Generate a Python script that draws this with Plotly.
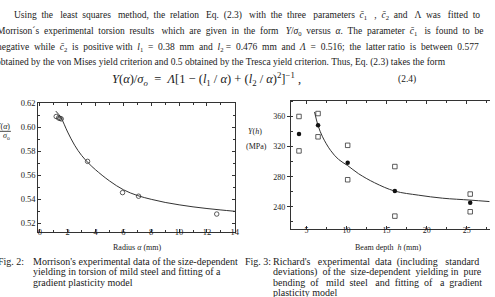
import plotly.graph_objects as go

W, H = 495, 297
FONT = "Liberation Serif"
INK = "#1a1a1a"

# ---- Fig. 2 data (Morrison, torsion) ----
radius_pts = [1.18, 1.35, 1.54, 1.45, 3.43, 5.94, 7.09, 12.7]
ratio_pts = [0.6090, 0.6078, 0.6070, 0.6074, 0.5715, 0.5454, 0.5424, 0.5275]
radius_fit = [1.15, 1.5, 2.0, 2.5, 3.0, 3.5, 4.0, 5.0, 6.0, 7.0, 8.0, 9.0, 10.0, 11.0, 12.0, 13.0, 14.0]
ratio_fit = [0.6135, 0.6085, 0.5960, 0.5850, 0.5765, 0.5700, 0.5645, 0.5552, 0.5478, 0.5430, 0.5398, 0.5372, 0.5352, 0.5335, 0.5321, 0.5309, 0.5298]

# ---- Fig. 3 data (Richards, bending) ----
depth = [4.06, 6.44, 10.14, 16.03, 25.44]
yield_mean = [336.9, 348.3, 298.7, 260.9, 245.6]
yield_hi = [360.0, 363.9, 321.7, 293.5, 257.0]
yield_lo = [314.3, 333.0, 276.0, 227.7, 233.5]
depth_fit = [6.0, 6.44, 7.0, 8.0, 9.0, 10.14, 11.5, 13.5, 16.0, 19.0, 22.0, 25.4, 27.9]
yield_fit = [366.0, 348.0, 333.0, 315.0, 303.0, 294.8, 284.0, 272.0, 261.0, 255.5, 251.5, 249.0, 247.0]

fig = go.Figure()
fig.add_trace(go.Scatter(x=radius_fit, y=ratio_fit, mode="lines", line=dict(color="#333", width=1, shape="spline"),
                         xaxis="x", yaxis="y", showlegend=False, hoverinfo="skip"))
fig.add_trace(go.Scatter(x=radius_pts, y=ratio_pts, mode="markers",
                         marker=dict(symbol="circle-open", size=4.5, color="#333", line=dict(width=0.8)),
                         xaxis="x", yaxis="y", showlegend=False))
fig.add_trace(go.Scatter(x=depth_fit, y=yield_fit, mode="lines", line=dict(color="#333", width=1, shape="spline"),
                         xaxis="x2", yaxis="y2", showlegend=False, hoverinfo="skip"))
fig.add_trace(go.Scatter(x=depth + depth, y=yield_hi + yield_lo, mode="markers",
                         marker=dict(symbol="square-open", size=4.5, color="#333", line=dict(width=0.8)),
                         xaxis="x2", yaxis="y2", showlegend=False))
fig.add_trace(go.Scatter(x=depth, y=yield_mean, mode="markers",
                         marker=dict(symbol="circle", size=4.5, color="#111"),
                         xaxis="x2", yaxis="y2", showlegend=False))

def px(x): return x / W
def py(y): return 1 - y / H

tickfont = dict(family=FONT, size=8.5, color=INK)
axcommon = dict(showline=True, linecolor="#333", linewidth=1, mirror="ticks", showgrid=False,
                zeroline=False, tickcolor="#333", tickfont=tickfont, ticks="inside", ticklen=3)

fig.update_layout(
    width=W, height=H, margin=dict(l=0, r=0, t=0, b=0),
    paper_bgcolor="white", plot_bgcolor="white",
    xaxis=dict(domain=[px(37.7), px(237)], range=[-0.11, 14.02], dtick=2, tick0=0, ticklabelstandoff=-8,
               minor=dict(dtick=1, ticks="inside", ticklen=2, tickcolor="#333"), anchor="y", **axcommon),
    yaxis=dict(domain=[py(231), py(100)], range=[0.5124, 0.62], dtick=0.02, tick0=0, tickformat=".2f",
               minor=dict(dtick=0.01, ticks="inside", ticklen=2, tickcolor="#333"), anchor="x", **axcommon),
    xaxis2=dict(domain=[px(293.3), px(494.5)], range=[3.03, 27.85], dtick=5, tick0=0, ticklabelstandoff=-7,
                minor=dict(dtick=2.5, ticks="inside", ticklen=2, tickcolor="#333"), anchor="y2",
                **{**axcommon, "tickfont": dict(family=FONT, size=8, color=INK)}),
    yaxis2=dict(domain=[py(228.3), py(97.3)], range=[210, 381], dtick=40, tick0=0,
                minor=dict(dtick=20, ticks="inside", ticklen=2, tickcolor="#333"), anchor="x2",
                **{**axcommon, "mirror": False, "ticks": "outside", "tickfont": dict(family=FONT, size=8, color=INK)}),
    yaxis3=dict(overlaying="y2", side="right", anchor="x2", range=[210, 381], dtick=20, tick0=0,
                ticks="inside", ticklen=2, tickcolor="#333", showticklabels=False, showgrid=False,
                zeroline=False, showline=True, linecolor="#333", linewidth=1),
)

NB = "\u00a0"
def justify(tokens, extra):
    gaps = len(tokens) - 1
    out = tokens[0]
    for i in range(1, len(tokens)):
        n = round(extra * i / gaps) - round(extra * (i - 1) / gaps)
        out += " " + NB * n + tokens[i]
    return out

def note(x, y, text, font, xanchor="left"):
    return dict(x=px(x), y=py(y), xref="paper", yref="paper", text=text, showarrow=False,
                xanchor=xanchor, yanchor="middle", font=font)

C1 = "<i>c\u0304</i><sub>1</sub>"
C2 = "<i>c\u0304</i><sub>2</sub>"
body = dict(family=FONT, size=9.5, color=INK)
OFF = 2.5  # annotation inner padding
lines = [
    (14, 11, justify(["Using", "the", "least", "squares", "method,", "the", "relation", "Eq.", "(2.3)", "with", "the",
                      "three", "parameters", C1, ",", C2, "and", "\u039b", "was", "fitted", "to"], 28)),
    (-4, 27, justify(["Morrison\u00b4s", "experimental", "torsion", "results", "which", "are", "given", "in", "the",
                      "form", "<i>Y</i>/<i>\u03c3</i><sub>0</sub>", "versus", "<i>\u03b1</i>.", "The", "parameter",
                      C1, "is", "found", "to", "be"], 22)),
    (-4, 43, justify(["negative", "while", C2, "is", "positive", "with", "<i>l</i><sub>1</sub>", "=", "0.38", "mm",
                      "and", "<i>l</i><sub>2</sub>", "=", "0.476", "mm", "and", "<i>\u039b</i>", "=", "0.516;", "the",
                      "latter", "ratio", "is", "between", "0.577"], 21)),
    (-5, 58, "obtained by the von Mises yield criterion and 0.5 obtained by the Tresca yield criterion. Thus, Eq. (2.3) takes the form"),
]
ann = []
for x, y, t in lines:
    ann.append(note(x - OFF, y, t, body))
ann.append(note(113 - OFF, 75.5,
                "<i>Y</i>(<i>\u03b1</i>)/<i>\u03c3<sub>o</sub></i>" + NB + " = " + NB + "<i>\u039b</i>[1 \u2212 (<i>l</i><sub>1</sub> / <i>\u03b1</i>) + (<i>l</i><sub>2</sub> / <i>\u03b1</i>)<sup>2</sup>]<sup>\u22121</sup> ,",
                dict(family=FONT, size=12.5, color=INK)))
ann.append(note(402 - OFF, 75.5, "(2.4)", body))

# axis titles
small = dict(family=FONT, size=8, color=INK)
ann.append(note(138.5, 246.5, "Radius <i>\u03b1</i> (mm)", small, "center"))
ann.append(note(392, 247, "Beam depth  <i>h</i> (mm)", small, "center"))
ann.append(note(9 + OFF, 123.5, "<i>Y</i>(<i>\u03b1</i>)", small, "right"))
ann.append(note(9 + OFF, 133.5, "<i>\u03c3</i><sub>o</sub>", small, "right"))
ann.append(note(257, 128.5, "<i>Y</i>(<i>h</i>)", small, "center"))
ann.append(note(259, 143.5, "(MPa)", small, "center"))

cap = dict(family=FONT, size=10, color=INK)
cap_left = ["Morrison's experimental data of the size-dependent",
            "yielding in torsion of mild steel and fitting of a",
            "gradient plasticity model"]
cap_right = [justify("Richard's experimental data (including standard".split(), 6),
             justify("deviations) of the size-dependent yielding in pure".split(), 4),
             justify("bending of mild steel and fitting of a gradient".split(), 11),
             "plasticity model"]
ys = [261, 271.5, 282, 292.5]
ann.append(note(-3 - OFF, ys[0], "Fig. 2:", cap))
ann.append(note(247 - OFF, ys[0], "Fig. 3:", cap))
for i, t in enumerate(cap_left):
    ann.append(note(33 - OFF, ys[i], t, cap))
for i, t in enumerate(cap_right):
    ann.append(note(275.5 - OFF, ys[i], t, cap))

fig.update_layout(annotations=ann,
                  shapes=[dict(type="line", xref="paper", yref="paper", x0=px(-2), x1=px(10), y0=py(128.5), y1=py(128.5),
                               line=dict(color=INK, width=0.8))])
fig.write_html("out.html")
